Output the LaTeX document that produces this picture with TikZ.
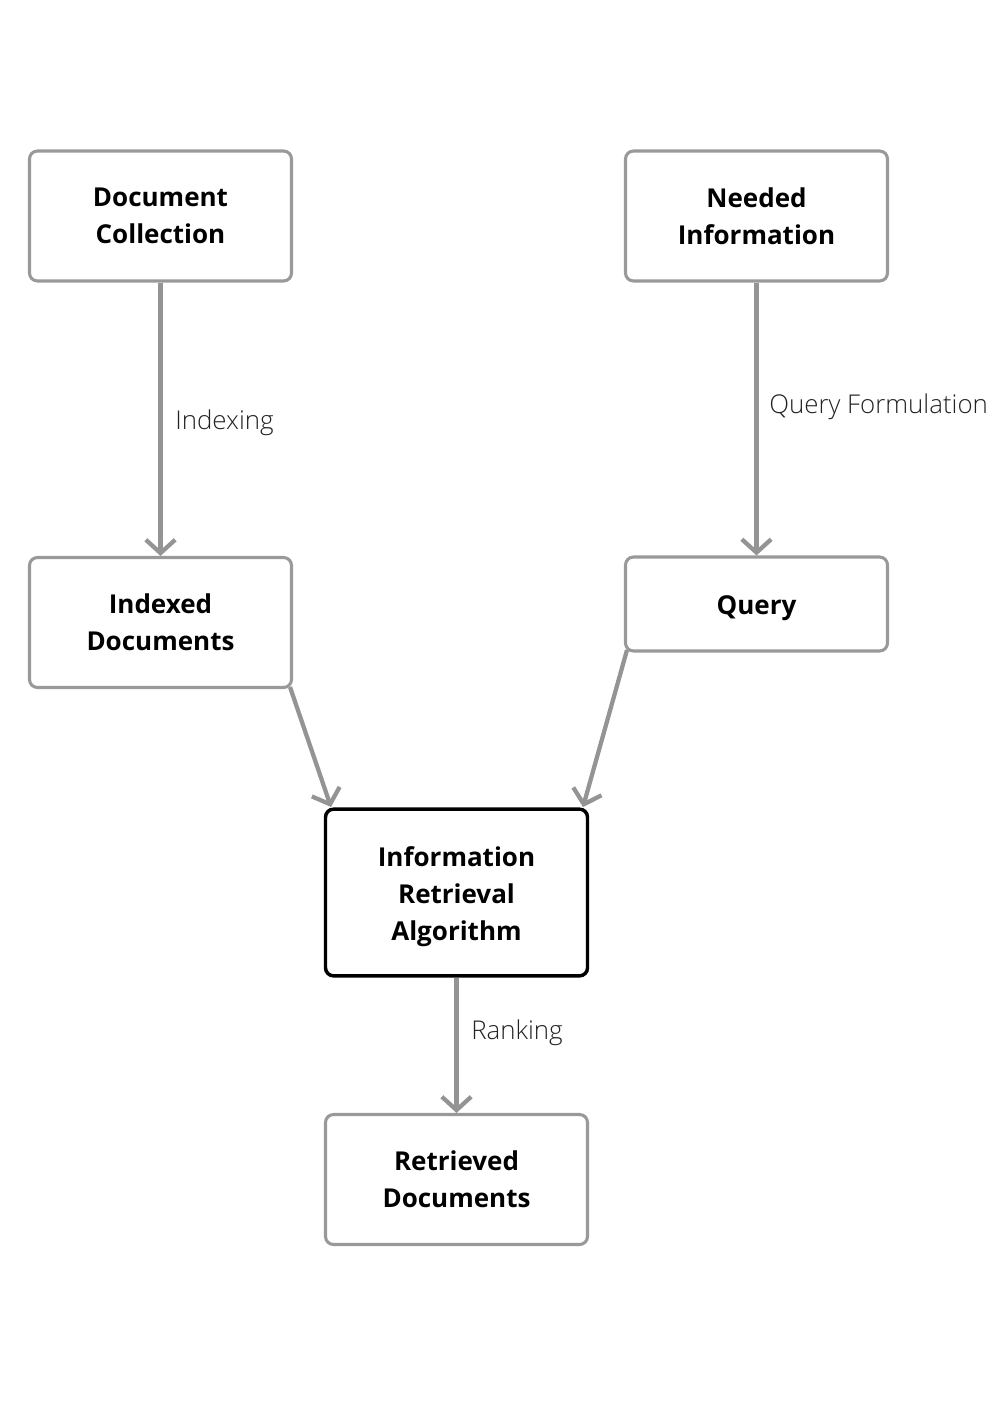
\documentclass[tikz,border=0pt]{standalone}
\usepackage{fontspec}
\setmainfont{Open Sans}
\newfontfamily\lightfont{Open Sans Light}
\usetikzlibrary{arrows.meta}
\definecolor{boxgray}{HTML}{999999}
\definecolor{arrgray}{HTML}{949494}
\definecolor{labgray}{HTML}{222222}
\begin{document}
\begin{tikzpicture}[x=0.75pt,y=-0.75pt,
  boxtext/.style={align=center, inner sep=0pt, font=\fontsize{19.5}{27.75}\selectfont\bfseries},
  box/.style={draw=boxgray, line width=2.3pt, rounded corners=6pt, fill=white,
    minimum width=196.5pt, minimum height=97.5pt, boxtext},
  mainbox/.style={box, draw=black, line width=2.6pt, minimum height=125pt},
  conn/.style={draw=arrgray, line width=3.2pt, -{Straight Barb[length=10pt,width=22pt,line width=3.2pt]}},
  lab/.style={font=\fontsize{19.4}{22}\selectfont\lightfont, text=labgray, anchor=west, inner sep=0pt}]
\useasboundingbox (0,0) rectangle (997,1401);
\node[box] (dc) at (160.5,216) {Document\\Collection};
\node[box] (ni) at (756.5,216) {Needed\\Information};
\node[box] (idx) at (160.5,622.5) {Indexed\\Documents};
\node[box, minimum height=70.5pt, label={[boxtext, yshift=-3pt]center:Query}] (q) at (756.5,604) {};
\node[mainbox, label={[boxtext, yshift=-3pt]center:Information\\Retrieval\\Algorithm}] (ira) at (456.5,892.5) {};
\node[box] (rd) at (456.5,1179.5) {Retrieved\\Documents};
\coordinate (idxc) at (290,687);
\coordinate (qc) at (627,650);
\coordinate (iral) at (331,807);
\coordinate (irar) at (583,807);
\draw[conn] (dc.south) -- (idx.north);
\draw[conn] (ni.south) -- (q.north);
\draw[conn] (idxc) -- (iral);
\draw[conn] (qc) -- (irar);
\draw[conn] (ira.south) -- (rd.north);
\node[lab] (l1) at (175,423) {Indexing};
\node[lab] (l2) at (769,407) {Query Formulation};
\node[lab] (l3) at (471,1033) {Ranking};
\end{tikzpicture}
\end{document}
